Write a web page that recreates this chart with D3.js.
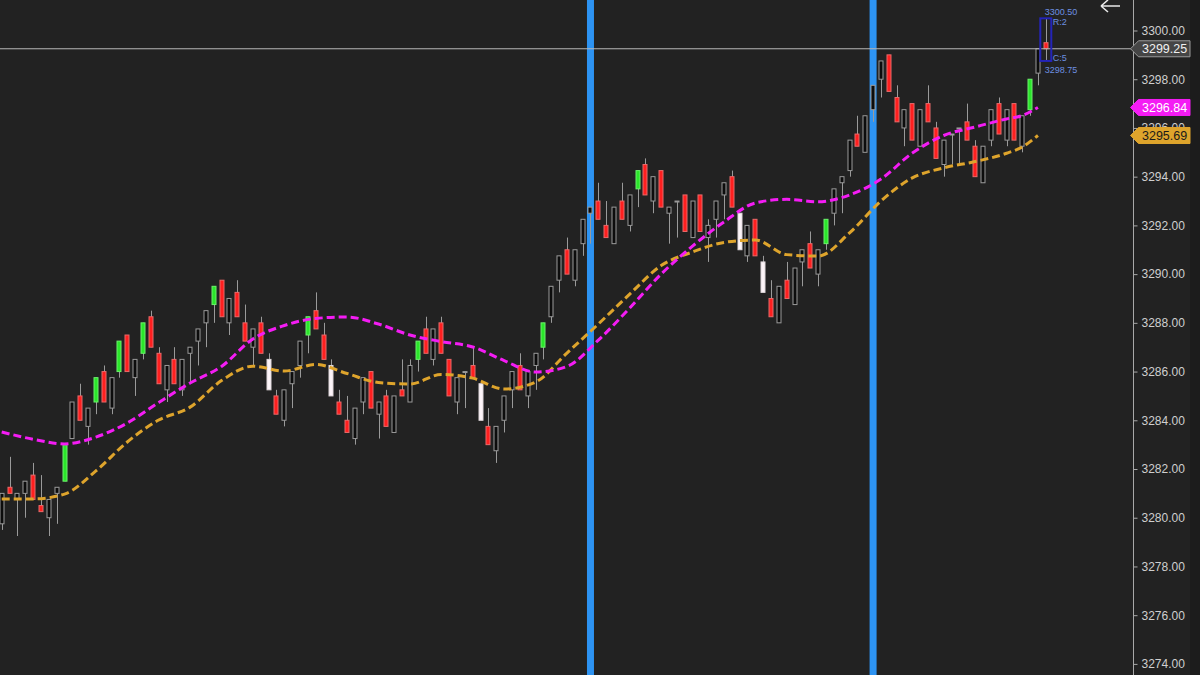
<!DOCTYPE html>
<html><head><meta charset="utf-8">
<script src="https://cdn.jsdelivr.net/npm/d3@7"></script>
<style>html,body{margin:0;padding:0;background:#222222;overflow:hidden} svg{display:block}</style>
</head><body>
<svg id="c" width="1200" height="675"></svg>
<script>
// ---- data ----
const opens = [3279.75,3281.25,3280.75,3281,3281.75,3280.5,3280,3281,3281.5,3283.25,
3285,3283.75,3284.75,3286,3284.5,3286,3287.5,3285.75,3286.75,3288.25,
3286.75,3285.25,3286.5,3285.25,3286.75,3287.25,3288,3288.75,3289.75,3288,
3289.25,3288,3287,3288,3286.5,3285,3284,3285.5,3286.25,3287.5,
3288.5,3287.5,3286.25,3284.75,3284,3283.25,3284.75,3286,3284.25,3285,
3283.5,3285.25,3284.75,3286.5,3287.75,3286.5,3288,3286.5,3284.75,3286,
3286.25,3285.5,3283.75,3282.75,3284,3285.25,3286.25,3285,3286.25,3287,
3288.25,3289.75,3291,3289.75,3291.25,3292.5,3293,3292,3291.25,3293,
3292,3293.5,3294.5,3293,3294.25,3292.5,3293,3293.25,3291.5,3293.25,
3291.5,3292.25,3293.25,3294,3292.5,3290.75,3292.25,3290.5,3289,3288,
3289.75,3288.75,3290.5,3291.25,3290,3291.25,3292.5,3293.75,3294.25,3295.75,
3295,3296.75,3298,3299,3297.25,3296,3297,3295.25,3297,3296,
3294.5,3295.75,3296,3296.25,3295.25,3293.75,3295.5,3297,3295.5,3297,
3295.25,3296.75,3298.25,3299.5];
const highs = [3281,3282.5,3281,3281.5,3282.25,3281.75,3280.75,3281.25,3283,3284.75,
3285.5,3284.5,3285.75,3286.25,3285.75,3287.25,3287.5,3286.5,3288,3288.5,
3287,3286.25,3287,3286.5,3287,3287.75,3288.5,3289.5,3289.75,3289,
3289.75,3288.75,3287.75,3288.25,3286.75,3285.25,3285.25,3286,3287.25,3288.25,
3289.25,3288,3286.5,3285.25,3285,3284.5,3285.75,3286,3284.75,3285.25,
3285,3286.5,3286.5,3287.25,3288.25,3287.75,3288.25,3286.5,3285.75,3286,
3287,3285.5,3284.5,3283.75,3285,3286,3286.75,3286,3286.75,3288,
3289.5,3290.75,3291.5,3291,3292.25,3292.75,3293.75,3293,3292.75,3293.75,
3293.25,3294.25,3294.75,3294,3294.25,3292.75,3293,3293.25,3293,3293.25,
3292.25,3293,3293.75,3294.25,3292.5,3292,3292.25,3290.75,3289.75,3289.5,
3290.5,3290.25,3291,3291.75,3291,3292.25,3293.5,3294,3295.5,3296.5,
3296.5,3297.75,3298.75,3299,3297.75,3296.75,3297,3296.75,3297.75,3296.25,
3295.5,3295.75,3296,3297,3295.5,3295.25,3296.75,3297.25,3296.75,3297,
3296.5,3298,3299.25,3300.5];
const lows = [3279.5,3281,3279.25,3280,3280.75,3280.25,3279.25,3279.75,3281.5,3283.25,
3284,3283,3284.25,3284.75,3284.25,3285.75,3286,3285,3286.5,3287,
3285.5,3284.75,3285.5,3285,3285.5,3286.25,3287,3288,3288.25,3287.5,
3288.25,3287.25,3286.25,3286.75,3285.25,3284.25,3283.75,3284.5,3285.75,3286.75,
3287.75,3286.5,3285,3284.25,3283.5,3283,3284.25,3284.5,3283.25,3283.75,
3283.5,3285,3284.75,3286,3286.75,3286.25,3286.75,3285,3284.25,3284.5,
3285.75,3284,3283,3282.25,3283.5,3284.5,3285.25,3284.5,3285.25,3286.5,
3288,3289.25,3290,3289.5,3290.75,3291.25,3292.25,3291.5,3291.25,3292.25,
3291.75,3292.75,3293.25,3292.5,3292.75,3291.25,3291.5,3291.75,3291.5,3291.75,
3290.5,3291.5,3292.25,3292.75,3291,3290.5,3290.75,3289.25,3288.25,3288,
3289,3288.75,3289.5,3290.25,3289.5,3291,3292,3292.5,3294,3295.25,
3295,3296.25,3297.25,3297.5,3296.25,3295.25,3295.5,3295.25,3296.25,3294.75,
3294,3294.5,3294.5,3295.5,3294,3293.75,3295.25,3295.75,3295.25,3295.5,
3295,3296.5,3297.75,3298.75];
const closes = [3281,3281,3281,3281.5,3280.75,3280.25,3280.75,3281.25,3283,3284.75,
3284,3284.5,3285.75,3284.75,3285.75,3287.25,3286,3286.5,3288,3287,
3285.5,3286.25,3285.5,3286.5,3287,3287.75,3288.5,3289.5,3288.25,3289,
3288.25,3287.25,3287.75,3286.75,3285.25,3284.25,3285.25,3286,3287.25,3288.25,
3287.75,3286.5,3285,3284.25,3283.5,3284.5,3285.75,3284.5,3284.75,3283.75,
3285,3285,3286.25,3287.25,3286.75,3287.75,3286.75,3285,3285.75,3286,
3285.75,3284,3283,3283.75,3285,3286,3285.25,3286,3286.75,3288,
3289.5,3290.75,3290,3291,3292.25,3292.75,3292.25,3291.5,3292.75,3292.25,
3293.25,3294.25,3293.25,3294,3292.75,3292.75,3293,3291.75,3293,3291.75,
3292,3293,3293.75,3292.75,3291,3292,3290.75,3289.25,3288.25,3289.5,
3289,3290.25,3291,3290.25,3291,3292.25,3293.5,3294,3295.5,3295.25,
3296.5,3297.75,3298.75,3297.5,3296.25,3296.75,3295.5,3296.75,3296.25,3294.75,
3295.5,3295.75,3296,3295.5,3294,3295.25,3296.75,3295.75,3296.75,3295.5,
3296.5,3298,3299.25,3299.25];
// candle colour class: k = up (dark body), r = down (red), g = green signal, w = white signal
const kinds = ("krkkrrkkgk" + "rkgrkgrkgr" + "rkrkkkkgrk" + "rrkrwrkkkg" + "rrwrrkkrkr" +
  "krkgrkrrkk" + "rwrkkkrkkg" + "kkrkkkrrkr" + "kgrkrkkrkr" + "kkkrwkrwrk" +
  "rkkrkgkkkr" + "kkkrrkrkrr" + "kkkrrkkrkr" + "kgkr").split("");

// moving averages sampled at candle indices
const maIdx  = [0,4,8,12,16,20,24,28,32,36,40,44,48,52,56,60,64,68,72,76,80,84,88,92,96,100,104,108,112,116,120,124,128,130,132];
const maFast = [3283.52,3283.22,3283.03,3283.31,3283.89,3284.73,3285.53,3286.21,3287.34,3287.89,
  3288.18,3288.24,3287.95,3287.5,3287.23,3287.01,3286.45,3285.98,3286.21,3287.29,
  3288.61,3290.0,3291.15,3292.14,3292.92,3293.07,3292.97,3293.25,3293.9,3294.97,
  3295.69,3296.04,3296.37,3296.51,3296.84];
const maSlow = [3280.77,3280.77,3280.97,3281.92,3283.11,3284.01,3284.54,3285.63,3286.22,3286.02,
  3286.29,3285.92,3285.55,3285.49,3285.88,3285.73,3285.28,3285.57,3286.76,3287.95,
  3289.18,3290.35,3290.91,3291.3,3291.4,3290.8,3290.74,3291.69,3293.0,3293.95,
  3294.36,3294.62,3294.96,3295.22,3295.69];

const markerIdx = [75, 111];
const yTickValues = [3274,3276,3278,3280,3282,3284,3286,3288,3290,3292,3294,3296,3298,3300];
const lastPrice = 3299.25;
const lastBar = {high: 3300.50, low: 3298.75, range: "R:2", count: "C:5"};

// ---- drawing ----
const svg = d3.select("#c");
const W = 1200, H = 675, axisX = 1133.5;
const x = d3.scaleLinear().domain([0, 133]).range([1.7, 1045.8]);
const y = d3.scaleLinear().domain([3274, 3300]).range([663.9, 30.5]);
const bw = 5;
const FONT = "Liberation Sans, Arial, sans-serif";

svg.append("rect").attr("width", W).attr("height", H).attr("fill", "#222222");
svg.append("rect").attr("x", 1190).attr("width", 10).attr("height", H).attr("fill", "#1c1c1c");

// blue session markers
svg.append("g").selectAll("rect").data(markerIdx).join("rect")
  .attr("x", d => x(d) - 3.5).attr("y", 0).attr("width", 7).attr("height", H)
  .attr("fill", "#2d93f2");

const idx = d3.range(opens.length);
const fills = {k: "#0c0c0c", r: "#ff1f1f", g: "#2ae62a", w: "#fcf4f8"};
const strokes = {k: "#9a9a9a", r: "#e86a6a", g: "#6cf06c", w: "#e0d8dc"};

const cg = svg.append("g");
cg.selectAll("line").data(idx).join("line")
  .attr("x1", i => Math.round(x(i)) + 0.5).attr("x2", i => Math.round(x(i)) + 0.5)
  .attr("y1", i => y(highs[i])).attr("y2", i => y(lows[i]))
  .attr("stroke", "#9a9a9a").attr("stroke-width", 1);
cg.selectAll("rect").data(idx).join("rect")
  .attr("x", i => Math.round(x(i)) - 2)
  .attr("y", i => y(Math.max(opens[i], closes[i])))
  .attr("width", bw - 1)
  .attr("height", i => Math.max(1, y(Math.min(opens[i], closes[i])) - y(Math.max(opens[i], closes[i]))))
  .attr("fill", i => fills[kinds[i]]).attr("stroke", i => strokes[kinds[i]]).attr("stroke-width", 1);

// moving averages
const line = d3.line().x(d => x(d[0])).y(d => y(d[1])).curve(d3.curveMonotoneX);
svg.append("path").datum(maIdx.map((d, j) => [d, maSlow[j]])).attr("d", line)
  .attr("fill", "none").attr("stroke", "#dea42c").attr("stroke-width", 3).attr("stroke-dasharray", "8,4");
svg.append("path").datum(maIdx.map((d, j) => [d, maFast[j]])).attr("d", line)
  .attr("fill", "none").attr("stroke", "#f41cf4").attr("stroke-width", 3).attr("stroke-dasharray", "8,4");

// last price line
svg.append("line").attr("x1", 0).attr("x2", axisX).attr("y1", y(lastPrice)).attr("y2", y(lastPrice))
  .attr("stroke", "#b8b8b8").attr("stroke-width", 1);

// last-bar annotation
const last = opens.length - 1;
svg.append("rect").attr("x", x(last) - 5.5).attr("y", y(lastBar.high)).attr("width", 11)
  .attr("height", y(lastBar.low) - y(lastBar.high))
  .attr("fill", "none").attr("stroke", "#2424b8").attr("stroke-width", 2);
const ann = svg.append("g").attr("font-family", FONT).attr("font-size", 9).attr("fill", "#6d8fe0");
ann.append("text").attr("x", x(last) - 1).attr("y", y(lastBar.high) - 3).text(d3.format(".2f")(lastBar.high));
ann.append("text").attr("x", x(last) + 7).attr("y", y(lastBar.high) + 7).text(lastBar.range);
ann.append("text").attr("x", x(last) + 7).attr("y", y(lastBar.low) + 0).text(lastBar.count);
ann.append("text").attr("x", x(last) - 1).attr("y", y(lastBar.low) + 12).text(d3.format(".2f")(lastBar.low));

// right axis
const axis = d3.axisRight(y).tickValues(yTickValues).tickFormat(d3.format(".2f")).tickSize(4).tickPadding(4);
const ag = svg.append("g").attr("transform", `translate(${axisX},0)`).call(axis);
ag.select(".domain").attr("stroke", "#a8a8a8").attr("d", `M0,0V${H}`);
ag.selectAll(".tick line").attr("stroke", "#a8a8a8");
ag.selectAll(".tick text").attr("fill", "#cfcfcf").attr("font-size", 12).attr("font-family", FONT);

// price tags
function tag(v, fill, stroke, txt) {
  const yc = y(v);
  const g = svg.append("g");
  g.append("path").attr("d", `M${axisX - 3},${yc} L${axisX + 5},${yc - 8} H1190 V${yc + 8} H${axisX + 5} Z`)
    .attr("fill", fill).attr("stroke", stroke).attr("stroke-width", 1);
  g.append("text").attr("x", 1142).attr("y", yc).attr("dy", "0.36em").attr("fill", txt)
    .attr("font-size", 12.5).attr("font-family", FONT)
    .text(d3.format(".2f")(v));
}
tag(lastPrice, "#454545", "#9a9a9a", "#f0f0f0");
tag(maFast[maFast.length - 1], "#f41cf4", "#f41cf4", "#ffffff");
tag(maSlow[maSlow.length - 1], "#dea42c", "#dea42c", "#1a1a1a");

// back arrow
svg.append("path").attr("d", "M1101,6 H1120 M1101,6 L1108,0 M1101,6 L1108,12")
  .attr("stroke", "#e8e8e8").attr("stroke-width", 1.6).attr("fill", "none");
</script>
</body></html>
